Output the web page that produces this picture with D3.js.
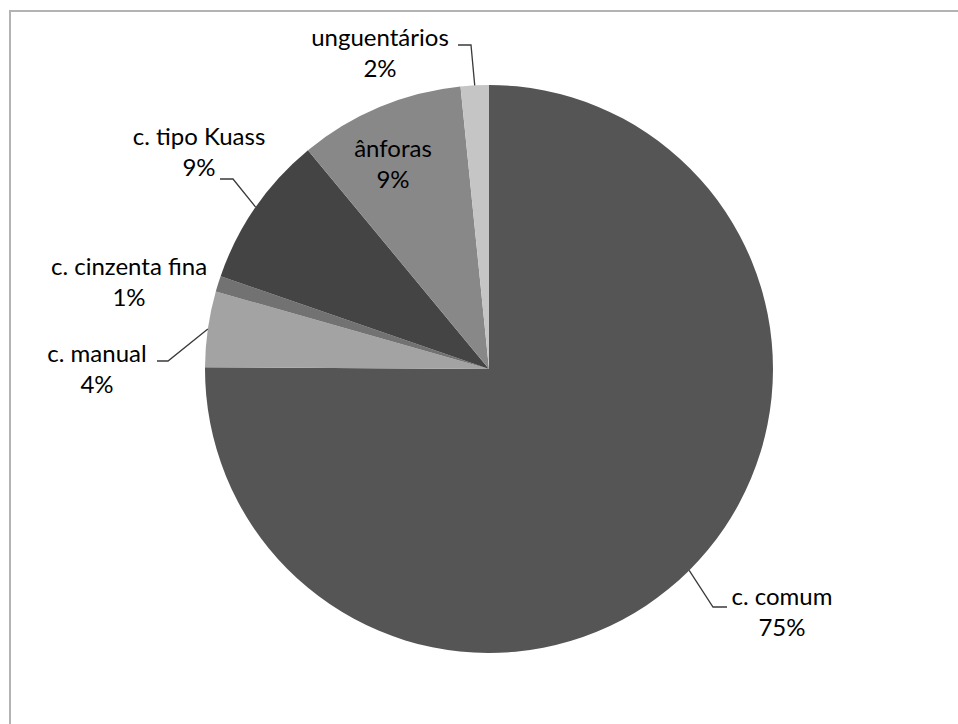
<!DOCTYPE html>
<html>
<head>
<meta charset="utf-8">
<script src="https://cdn.jsdelivr.net/npm/d3@7"></script>
<style>
  html, body { margin: 0; padding: 0; background: #fff; }
  svg { display: block; }
  text { font-family: Lato, "Open Sans", sans-serif; fill: #000; }
</style>
</head>
<body>
<svg id="chart" width="958" height="724"></svg>
<script>
// Share of each ceramic category (percent of the assemblage)
const categories = ["c. comum", "c. manual", "c. cinzenta fina", "c. tipo Kuass", "ânforas", "unguentários"];
const shares = [75.1, 4.3, 0.9, 8.7, 9.4, 1.6];
const sliceColors = ["#555555", "#a3a3a3", "#727272", "#444444", "#888888", "#c5c5c5"];

// Label placement: text centre, first baseline, and the leader path (if any)
const labelLayout = [
  { x: 782, y: 605, leader: [[713, 607], [727, 607]] },
  { x: 97,  y: 362, leader: [[168, 361], [157, 361]] },
  { x: 129, y: 275, leader: null },
  { x: 199, y: 145, leader: [[233, 179], [220, 179]] },
  { x: 393, y: 157, leader: null },
  { x: 380, y: 46,  leader: [[471, 45], [458, 45]] }
];

const W = 958, H = 724;
const cx = 489, cy = 369, R = 284;
const lineGap = 31;

const svg = d3.select("#chart");

// Chart-area frame
svg.append("rect")
  .attr("x", 10).attr("y", 11)
  .attr("width", W + 20).attr("height", H + 20)
  .attr("fill", "none")
  .attr("stroke", "#b3b3b3")
  .attr("stroke-width", 2);

const data = categories.map((c, i) => ({ name: c, value: shares[i], color: sliceColors[i], layout: labelLayout[i] }));

const pie = d3.pie().sort(null).value(d => d.value).startAngle(0).endAngle(2 * Math.PI);
const arcs = pie(data);
const arc = d3.arc().innerRadius(0).outerRadius(R);

const g = svg.append("g").attr("transform", `translate(${cx},${cy})`);

g.selectAll("path.slice")
  .data(arcs)
  .join("path")
  .attr("class", "slice")
  .attr("d", arc)
  .attr("fill", d => d.data.color);

// Leader lines from the slice rim to the label
const edgePoint = d => {
  const a = (d.startAngle + d.endAngle) / 2;
  return [cx + R * Math.sin(a), cy - R * Math.cos(a)];
};

svg.selectAll("path.leader")
  .data(arcs.filter(d => d.data.layout.leader))
  .join("path")
  .attr("class", "leader")
  .attr("d", d => d3.line()([edgePoint(d), ...d.data.layout.leader]))
  .attr("fill", "none")
  .attr("stroke", "#3a3a3a")
  .attr("stroke-width", 1.3);

const fmt = v => Math.round(v) + "%";

const labels = svg.selectAll("text.lbl")
  .data(arcs)
  .join("text")
  .attr("class", "lbl")
  .attr("text-anchor", "middle")
  .attr("font-size", 24);

labels.append("tspan")
  .attr("x", d => d.data.layout.x)
  .attr("y", d => d.data.layout.y)
  .text(d => d.data.name);

labels.append("tspan")
  .attr("x", d => d.data.layout.x)
  .attr("y", d => d.data.layout.y + lineGap)
  .text(d => fmt(d.data.value));
</script>
</body>
</html>
